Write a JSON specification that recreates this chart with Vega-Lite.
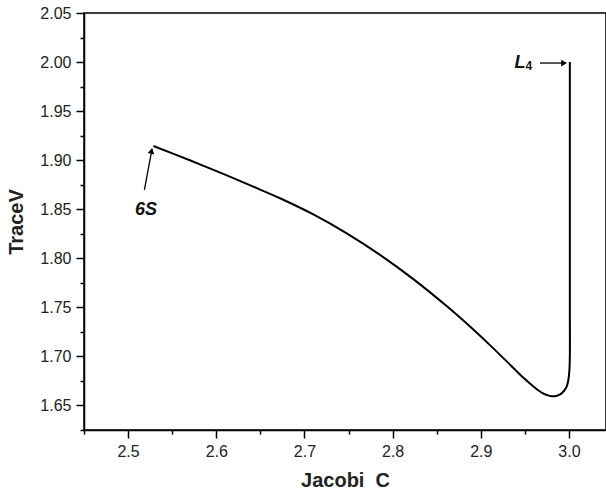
{
  "$schema": "https://vega.github.io/schema/vega-lite/v6.json",
  "autosize": "none",
  "width": 522,
  "height": 417,
  "padding": {"left": 84, "top": 13, "right": 0, "bottom": 67},
  "background": "white",
  "config": {
    "view": {"stroke": "black", "strokeWidth": 1.5},
    "axis": {
      "labelFont": "Liberation Sans",
      "labelFontSize": 16,
      "labelColor": "#222",
      "titleFont": "Liberation Sans",
      "titleFontSize": 20,
      "titleFontWeight": "bold",
      "titleColor": "#222",
      "domainColor": "black",
      "domainWidth": 1.5,
      "tickColor": "black",
      "tickWidth": 1.5,
      "grid": false,
      "labelOverlap": false,
      "labelFlush": false
    }
  },
  "datasets": {
    "curve": [
      {"i": 1, "C": 2.5287, "T": 1.9145},
      {"i": 2, "C": 2.57, "T": 1.8999},
      {"i": 3, "C": 2.61, "T": 1.8852},
      {"i": 4, "C": 2.64, "T": 1.8738},
      {"i": 5, "C": 2.6723, "T": 1.8612},
      {"i": 6, "C": 2.7101, "T": 1.8447},
      {"i": 7, "C": 2.748, "T": 1.8254},
      {"i": 8, "C": 2.7857, "T": 1.8035},
      {"i": 9, "C": 2.8235, "T": 1.7788},
      {"i": 10, "C": 2.8613, "T": 1.7513},
      {"i": 11, "C": 2.8915, "T": 1.7274},
      {"i": 12, "C": 2.9104, "T": 1.7115},
      {"i": 13, "C": 2.93, "T": 1.6944},
      {"i": 14, "C": 2.94, "T": 1.6855},
      {"i": 15, "C": 2.95, "T": 1.6769},
      {"i": 16, "C": 2.96, "T": 1.6691},
      {"i": 17, "C": 2.97, "T": 1.6626},
      {"i": 18, "C": 2.978, "T": 1.6598},
      {"i": 19, "C": 2.984, "T": 1.6594},
      {"i": 20, "C": 2.99, "T": 1.6612},
      {"i": 21, "C": 2.9945, "T": 1.665},
      {"i": 22, "C": 2.9974, "T": 1.6693},
      {"i": 23, "C": 2.9995, "T": 1.677},
      {"i": 24, "C": 3.0005, "T": 1.686},
      {"i": 25, "C": 3.001, "T": 1.6999},
      {"i": 26, "C": 3.001, "T": 1.75},
      {"i": 27, "C": 3.001, "T": 2.0}
    ],
    "arrows": [
      {"a": "6S", "C": 2.5185, "T": 1.8697, "C2": 2.5272, "T2": 1.9115},
      {"a": "L4", "C": 2.9671, "T": 1.999, "C2": 2.995, "T2": 1.999}
    ],
    "heads": [
      {"a": "6S", "C": 2.5266, "T": 1.9094, "ang": 11.6},
      {"a": "L4", "C": 2.9945, "T": 1.999, "ang": 90}
    ],
    "labels": [
      {"txt": "6S", "C": 2.5204, "T": 1.8493},
      {"txt": "L", "C": 2.9444, "T": 1.9986}
    ],
    "subs": [
      {"txt": "4", "C": 2.9545, "T": 1.9958}
    ]
  },
  "encoding": {
    "x": {
      "field": "C", "type": "quantitative",
      "scale": {"domain": [2.45, 3.042], "nice": false, "zero": false},
      "axis": {
        "title": "Jacobi\u00a0\u00a0C",
        "values": [2.45, 2.5, 2.55, 2.6, 2.65, 2.7, 2.75, 2.8, 2.85, 2.9, 2.95, 3.0],
        "labelExpr": "abs(datum.value*10 - round(datum.value*10)) < 0.001 ? format(datum.value, '.1f') : ''",
        "tickSize": {"condition": {"test": "abs(datum.value*10 - round(datum.value*10)) < 0.001", "value": 8}, "value": 4},
        "labelPadding": 5,
        "titlePadding": 11
      }
    },
    "y": {
      "field": "T", "type": "quantitative",
      "scale": {"domain": [1.625, 2.05], "nice": false, "zero": false},
      "axis": {
        "title": "TraceV",
        "values": [1.625, 1.65, 1.675, 1.7, 1.725, 1.75, 1.775, 1.8, 1.825, 1.85, 1.875, 1.9, 1.925, 1.95, 1.975, 2.0, 2.025, 2.05],
        "labelExpr": "abs(datum.value*20 - round(datum.value*20)) < 0.001 ? format(datum.value, '.2f') : ''",
        "tickSize": {"condition": {"test": "abs(datum.value*20 - round(datum.value*20)) < 0.001", "value": 8}, "value": 4},
        "labelPadding": 5,
        "titlePadding": 13
      }
    }
  },
  "layer": [
    {
      "data": {"name": "curve"},
      "mark": {"type": "line", "color": "black", "strokeWidth": 2, "interpolate": "catmull-rom", "clip": true},
      "encoding": {"order": {"field": "i", "type": "quantitative"}}
    },
    {
      "data": {"name": "arrows"},
      "mark": {"type": "rule", "color": "black", "strokeWidth": 1.3},
      "encoding": {
        "x2": {"field": "C2"},
        "y2": {"field": "T2"}
      }
    },
    {
      "data": {"name": "heads"},
      "mark": {"type": "point", "shape": "triangle-up", "filled": true, "color": "black", "opacity": 1, "size": 45},
      "encoding": {"angle": {"field": "ang", "type": "quantitative", "scale": null}}
    },
    {
      "data": {"name": "labels"},
      "mark": {"type": "text", "font": "Liberation Sans", "fontWeight": "bold", "fontStyle": "italic", "fontSize": 18, "color": "#111"},
      "encoding": {"text": {"field": "txt"}}
    },
    {
      "data": {"name": "subs"},
      "mark": {"type": "text", "font": "Liberation Sans", "fontWeight": "bold", "fontSize": 12, "color": "#111"},
      "encoding": {"text": {"field": "txt"}}
    }
  ]
}
